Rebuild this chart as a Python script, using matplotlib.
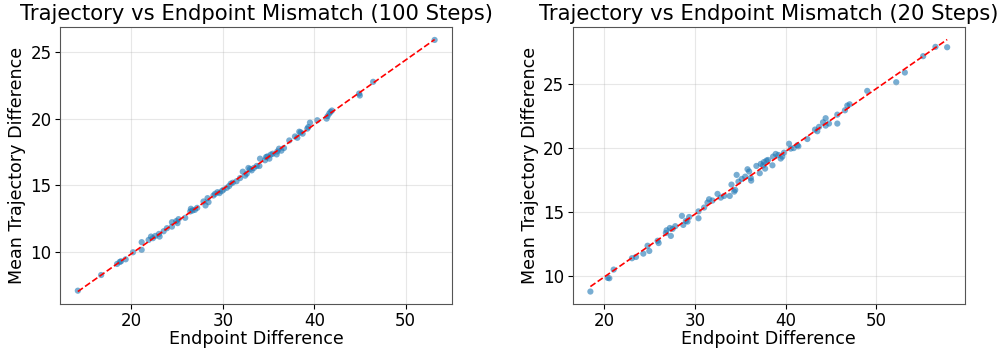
import numpy as np
import matplotlib
matplotlib.use('Agg')
from matplotlib import pyplot as plt

# Endpoint difference vs mean trajectory difference, 100 steps
endpoint_100 = [14.15, 16.7, 18.44, 18.73, 18.87, 19.38, 20.18, 21.13, 21.13, 21.89,
                22.15, 22.36, 22.62, 23.09, 23.02, 23.53, 23.89, 24.44, 24.44, 25.05,
                25.16, 25.89, 26.44, 26.51, 26.69, 26.95, 27.89, 28.11, 28.33, 28.44,
                28.98, 29.16, 29.42, 29.64, 29.89, 30.07, 30.44, 30.69, 30.87, 31.09,
                31.89, 32.18, 32.44, 32.62, 32.8, 32.98, 33.16, 33.71, 34.0, 34.07,
                34.62, 34.73, 34.87, 35.09, 35.24, 35.45, 35.89, 35.96, 36.15, 36.69,
                37.27, 37.89, 38.15, 38.36, 38.51, 38.73, 39.24, 39.35, 39.53, 40.33,
                41.35, 41.45, 41.64, 41.78, 41.93, 44.91, 44.98, 46.44, 53.16, 27.2,
                31.5, 33.4, 36.4, 24.9]
trajectory_100 = [7.07, 8.25, 9.08, 9.23, 9.28, 9.43, 9.96, 10.14, 10.72, 10.89,
                  11.14, 11.02, 11.19, 11.14, 11.34, 11.54, 11.77, 11.89, 12.22, 12.15,
                  12.45, 12.55, 13.03, 13.23, 13.1, 13.15, 13.78, 13.48, 14.03, 13.73,
                  14.23, 14.36, 14.48, 14.41, 14.56, 14.66, 14.81, 14.94, 15.12, 15.19,
                  15.54, 16.02, 15.72, 15.87, 16.3, 16.22, 16.12, 16.45, 16.45, 17.0,
                  16.88, 17.12, 17.17, 17.0, 17.3, 17.37, 17.32, 17.54, 17.75, 17.8,
                  18.37, 18.67, 18.57, 19.03, 18.98, 18.88, 19.26, 19.38, 19.71, 19.89,
                  20.01, 20.19, 20.39, 20.52, 20.62, 21.9, 21.75, 22.78, 25.93, 13.3,
                  15.3, 16.3, 17.6, 12.3]

# Endpoint difference vs mean trajectory difference, 20 steps
endpoint_20 = [18.46, 20.37, 20.55, 21.03, 23.05, 23.49, 24.3, 24.77, 24.96, 25.88,
               25.99, 26.79, 26.87, 27.23, 27.34, 27.53, 27.83, 28.56, 28.71, 29.0,
               29.18, 29.36, 30.39, 30.39, 31.01, 31.38, 31.56, 31.93, 32.49, 32.85,
               33.22, 33.84, 34.03, 34.33, 34.44, 34.8, 35.17, 35.54, 35.8, 35.98,
               36.16, 36.2, 36.78, 37.15, 37.26, 37.52, 37.74, 37.89, 38.07, 38.62,
               38.55, 38.91, 39.21, 39.46, 39.64, 39.83, 40.38, 40.57, 41.3, 41.41,
               42.4, 43.25, 43.5, 43.69, 44.13, 44.42, 44.42, 44.79, 45.71, 45.71,
               46.55, 46.81, 47.07, 49.01, 52.21, 53.16, 55.18, 56.54, 57.83, 34.6,
               37.6, 40.9]
trajectory_20 = [8.76, 9.83, 9.8, 10.48, 11.37, 11.47, 11.73, 12.35, 11.94, 12.74,
                 12.56, 13.35, 13.56, 13.74, 13.12, 13.67, 13.88, 14.69, 13.98, 14.29,
                 14.24, 14.6, 15.04, 14.5, 15.34, 15.73, 15.99, 15.89, 16.41, 16.12,
                 16.25, 16.25, 17.14, 16.59, 16.72, 17.37, 17.58, 17.76, 18.34, 18.16,
                 17.66, 17.45, 18.6, 18.03, 18.76, 18.65, 18.39, 19.02, 19.07, 19.33,
                 18.65, 19.54, 19.46, 19.18, 19.33, 19.64, 20.34, 19.96, 20.22, 20.14,
                 20.71, 21.45, 21.32, 21.66, 22.02, 22.34, 21.76, 21.92, 22.62, 21.92,
                 22.96, 23.33, 23.43, 24.48, 25.16, 25.92, 27.2, 27.93, 27.9, 17.9,
                 18.9, 20.0]

panels = [
    (endpoint_100, trajectory_100, 'Trajectory vs Endpoint Mismatch (100 Steps)'),
    (endpoint_20, trajectory_20, 'Trajectory vs Endpoint Mismatch (20 Steps)'),
]

fig, axes = plt.subplots(1, 2, figsize=(10, 3.5), dpi=100)
plt.subplots_adjust(left=0.06, right=0.965, bottom=0.131, top=0.923, wspace=0.306)

for ax, (xs, ys, title) in zip(axes, panels):
    xs = np.array(xs)
    ys = np.array(ys)
    ax.scatter(xs, ys, s=20, alpha=0.6, color='tab:blue', edgecolors='none')
    # least squares line over the data range
    m, b = np.polyfit(xs, ys, 1)
    line_x = np.array([xs.min(), xs.max()])
    ax.plot(line_x, m * line_x + b, 'r--', linewidth=1.2)
    ax.set_title(title, fontsize=15.2, pad=5)
    ax.set_xlabel('Endpoint Difference', fontsize=12.6, labelpad=0)
    ax.set_ylabel('Mean Trajectory Difference', fontsize=12.6, labelpad=3)
    ax.tick_params(labelsize=12, pad=2.5)
    ax.grid(True, alpha=0.3)
    for sp in ax.spines.values():
        sp.set_color('#555555')

plt.savefig('out.png')
